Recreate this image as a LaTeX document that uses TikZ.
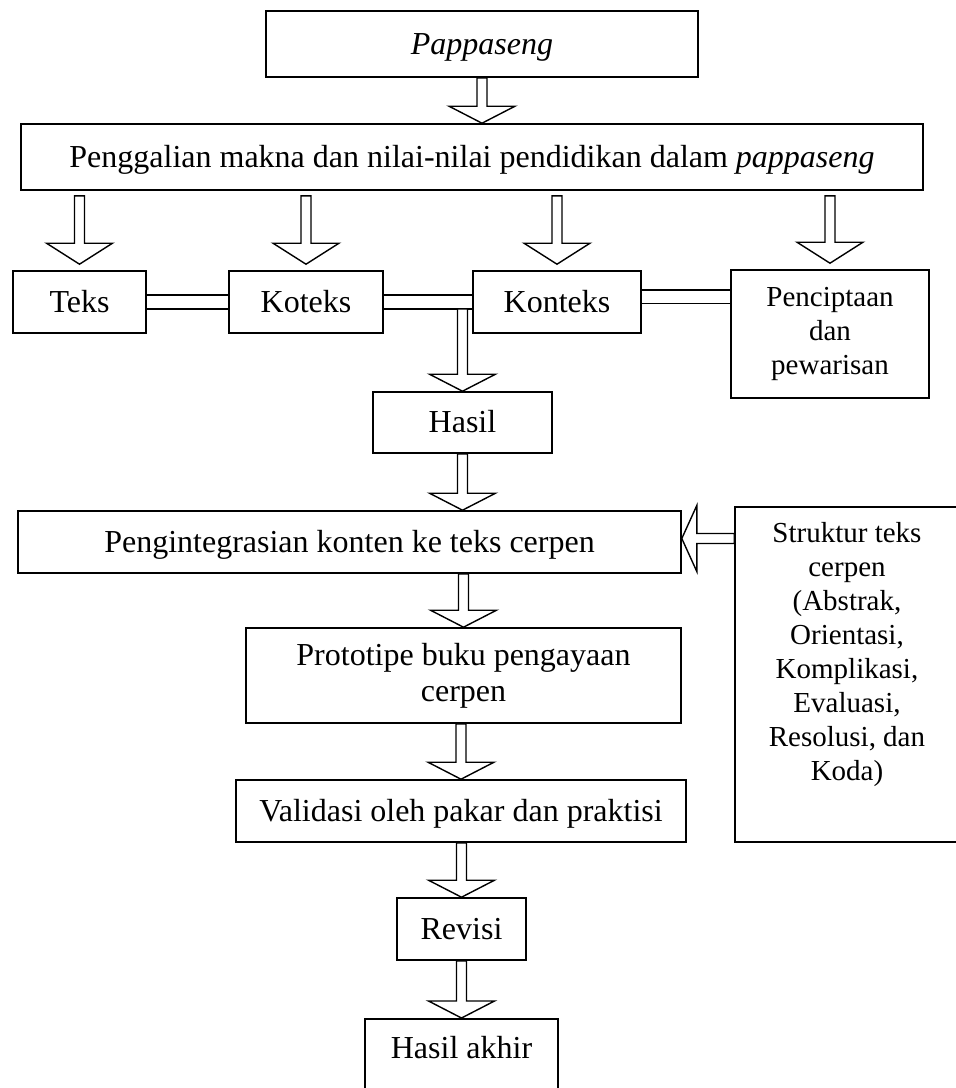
\documentclass[tikz,border=0pt]{standalone}
\usepackage{fontspec}
\setmainfont{Liberation Serif}
\usetikzlibrary{calc}

% hollow block arrow from #2 to tip #3, #1 = head length
\newcommand{\hollowarrow}[3][8.5pt]{%
  \coordinate (ha) at (#2);
  \coordinate (ht) at (#3);
  \coordinate (hb) at ($(ht)!#1!(ha)$);
  \draw [hollow] ($(ha)!2.5pt!90:(ht)$) -- ($(hb)!2.5pt!90:(ht)$) -- ($(hb)!16.5pt!90:(ht)$) -- (ht)
    -- ($(hb)!16.5pt!-90:(ht)$) -- ($(hb)!2.5pt!-90:(ht)$) -- ($(ha)!2.5pt!-90:(ht)$) -- cycle;
}

\begin{document}
\begin{tikzpicture}[x=0.5pt,y=-0.5pt,
  box/.style={draw,line width=0.8pt,inner sep=0pt,font=\fontsize{16pt}{18pt}\selectfont},
  onebox/.style={box,text height=12.5pt,text depth=2.5pt},
  smallbox/.style={box,font=\fontsize{14.5pt}{17pt}\selectfont},
  hollow/.style={draw,fill=white,line width=0.7pt},
  link/.style={draw,double,double distance=6pt,line width=0.8pt}]
  \useasboundingbox (0,0) rectangle (956,1088);

  \node [onebox,minimum width=216pt,minimum height=33pt] (pappaseng) at (482,44) {\textit{Pappaseng}};
  \node [onebox,minimum width=451pt,minimum height=33pt] (penggalian) at (472,157) {Penggalian makna dan nilai-nilai pendidikan dalam \textit{pappaseng}};

  \node [onebox,minimum width=66.5pt,minimum height=31pt] (teks) at (79.5,302) {Teks};
  \node [onebox,minimum width=77pt,minimum height=31pt] (koteks) at (306,302) {Koteks};
  \node [onebox,minimum width=84pt,minimum height=31pt] (konteks) at (557,302) {Konteks};
  \node [smallbox,align=center,minimum width=99pt,minimum height=64pt] (penciptaan) at (830,334) {Penciptaan\\dan\\pewarisan};

  \node [onebox,minimum width=89.5pt,minimum height=30.5pt] (hasil) at (462.5,422.5) {Hasil};
  \node [onebox,minimum width=331.5pt,minimum height=31pt] (integrasi) at (349.5,542) {Pengintegrasian konten ke teks cerpen};
  \node [box,align=center,minimum width=217.5pt,minimum height=47.5pt] (prototipe) at (463.5,675.5) {Prototipe buku pengayaan\\cerpen};
  \node [onebox,minimum width=225pt,minimum height=31pt] (validasi) at (461,811) {Validasi oleh pakar dan praktisi};
  \node [onebox,minimum width=64.5pt,minimum height=31pt] (revisi) at (461.5,929) {Revisi};
  \node [box,anchor=north,minimum width=96.5pt,text height=20pt,text depth=22pt] (hasilakhir) at (461.5,1018) {Hasil akhir};

  \node [smallbox] (struktur) at (847,674.5) {\parbox[c][167.5pt][t]{112pt}{\centering\vspace*{7.5pt}Struktur teks\\
    cerpen\\ (Abstrak,\\ Orientasi,\\ Komplikasi,\\ Evaluasi,\\ Resolusi, dan\\ Koda)}};

  \draw [link] (teks.east) -- (koteks.west);
  \draw [link] (koteks.east) -- (konteks.west);
  \draw [link] ($(konteks.east)+(0,-5.5)$) -- ($(konteks.east -| penciptaan.west)+(0,-5.5)$);

  \hollowarrow{pappaseng.south}{pappaseng.south |- penggalian.north}
  \foreach \b in {teks,koteks,konteks,penciptaan}
    {\hollowarrow[10.5pt]{$(\b.north |- penggalian.south)+(0,5)$}{$(\b.north)+(0,-6)$}}
  \hollowarrow{$(hasil.north |- koteks.east)+(0,7)$}{hasil.north}
  \hollowarrow{hasil.south}{hasil.south |- integrasi.north}
  \foreach \a/\b in {integrasi/prototipe,prototipe/validasi,validasi/revisi,revisi/hasilakhir}
    {\hollowarrow{\b.north |- \a.south}{\b.north}}
  \hollowarrow[7.5pt]{$(struktur.west |- integrasi.east)+(0,-3.5)$}{$(integrasi.east)+(0,-3.5)$}
\end{tikzpicture}
\end{document}
